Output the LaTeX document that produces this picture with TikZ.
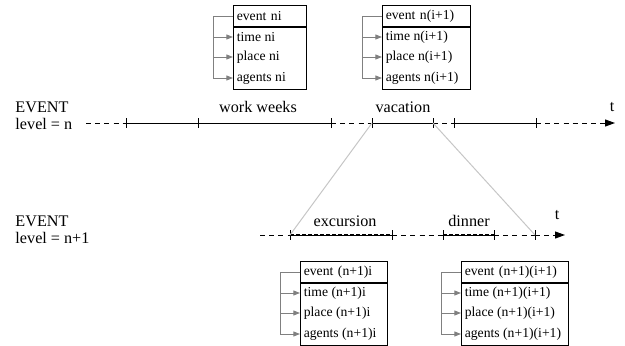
\documentclass[tikz,border=0pt]{standalone}
\usepackage{fontspec}
\setmainfont{Liberation Serif}
\usetikzlibrary{arrows.meta,positioning,calc}

\begin{document}
\begin{tikzpicture}[x=0.6pt, y=-0.6pt, line width=0.6pt,
    head/.style={draw, anchor=north west, inner xsep=2pt, inner ysep=0pt, minimum height=12.6pt, align=left, font=\fontsize{8.2}{10}\selectfont},
    body/.style={draw, anchor=north west, inner sep=0pt, minimum height=37.2pt},
    row/.style={anchor=west, inner xsep=2pt, inner ysep=0pt, font=\fontsize{8.2}{10}\selectfont},
    link/.style={draw=gray, -{Triangle[length=4pt,width=3pt]}},
    lbl/.style={font=\fontsize{9.7}{10.4}\selectfont, inner sep=0pt},
    loose/.style={dash pattern=on 3pt off 2.5pt},
    busy/.style={line width=0.8pt, dash pattern=on 2.6pt off 1pt},
    zoomline/.style={draw=gray!45},
    tip/.style={-{Triangle[length=6pt,width=4.2pt]}}
]
\useasboundingbox (0,0) rectangle (625,345);

% level n boxes
\node[head, text width=39.8pt] (h1) at (233,5) {event ni};
\node[body, minimum width=43.8pt] (b1) at (h1.south west) {};
\node[row] (t1) at ($(b1.north west)+(0,10)$) {time ni};
\node[row] (p1) at ($(b1.north west)+(0,30)$) {place ni};
\node[row] (a1) at ($(b1.north west)+(0,51)$) {agents ni};

\node[head, text width=48.8pt] (h2) at (382,5) {event n(i+1)};
\node[body, minimum width=52.8pt] (b2) at (h2.south west) {};
\node[row] (t2) at ($(b2.north west)+(0,10)$) {time n(i+1)};
\node[row] (p2) at ($(b2.north west)+(0,30)$) {place n(i+1)};
\node[row] (a2) at ($(b2.north west)+(0,51)$) {agents n(i+1)};

% level n+1 boxes
\node[head, text width=48.2pt] (h3) at (300,261) {event (n+1)i};
\node[body, minimum width=52.2pt] (b3) at (h3.south west) {};
\node[row] (t3) at ($(b3.north west)+(0,10)$) {time (n+1)i};
\node[row] (p3) at ($(b3.north west)+(0,30)$) {place (n+1)i};
\node[row] (a3) at ($(b3.north west)+(0,51)$) {agents (n+1)i};

\node[head, text width=60.2pt] (h4) at (461,261) {event (n+1)(i+1)};
\node[body, minimum width=64.2pt] (b4) at (h4.south west) {};
\node[row] (t4) at ($(b4.north west)+(0,10)$) {time (n+1)(i+1)};
\node[row] (p4) at ($(b4.north west)+(0,30)$) {place (n+1)(i+1)};
\node[row] (a4) at ($(b4.north west)+(0,51)$) {agents (n+1)(i+1)};

\foreach \i in {1,...,4}
  \foreach \r in {t,p,a}
    \draw[link] (h\i.west) -- ++(-20,0) |- (\r\i.west);

% level labels
\node[lbl, anchor=west, align=left] (lv1) at (15,115.5) {EVENT\\level = n};
\node[lbl, anchor=west, align=left] (lv2) at (15,229.5) {EVENT\\level = n+1};

% time line, level n
\coordinate (s1) at (86,123);
\coordinate (k1) at (126,123);
\coordinate (k2) at (198,123);
\coordinate (k3) at (331,123);
\coordinate (k4) at (372,123);
\coordinate (k5) at (433,123);
\coordinate (k6) at (454,123);
\coordinate (k7) at (536,123);
\coordinate (e1) at (615,123);

\draw[loose] (s1) -- (k1);
\draw (k1) -- (k3);
\draw[loose] (k3) -- (k4);
\draw (k4) -- (k5);
\draw[loose] (k5) -- (k6);
\draw (k6) -- (k7);
\draw[loose, tip] (k7) -- (e1);
\foreach \k in {1,...,7}
  \draw (k\k) ++(0,-5) -- ++(0,10);

\node[lbl] (ww) at (258,107) {work weeks};
\node[lbl] (vac) at (403,107) {vacation};
\node[lbl] (t1lbl) at (612,107) {t};

% time line, level n+1
\coordinate (s2) at (260,235);
\coordinate (m1) at (290,235);
\coordinate (m2) at (392,235);
\coordinate (m3) at (443,235);
\coordinate (m4) at (494,235);
\coordinate (m5) at (535,235);
\coordinate (e2) at (565,235);

\draw[loose] (s2) -- (m1);
\draw (m1) -- (m2);
\draw[busy] (m1) -- (m2);
\draw[loose] (m2) -- (m3);
\draw (m3) -- (m4);
\draw[busy] (m3) -- (m4);
\draw[loose] (m4) -- (m5);
\draw[loose, tip] (m5) -- (e2);
\foreach \k in {1,...,5}
  \draw (m\k) ++(0,-5) -- ++(0,10);

\node[lbl] (exc) at (345,221) {excursion};
\node[lbl] (din) at (469,221) {dinner};
\node[lbl] (t2lbl) at (557,215) {t};

% zoom into vacation
\draw[zoomline] (k4) -- (m1);
\draw[zoomline] (k5) -- (m5);

\end{tikzpicture}
\end{document}
